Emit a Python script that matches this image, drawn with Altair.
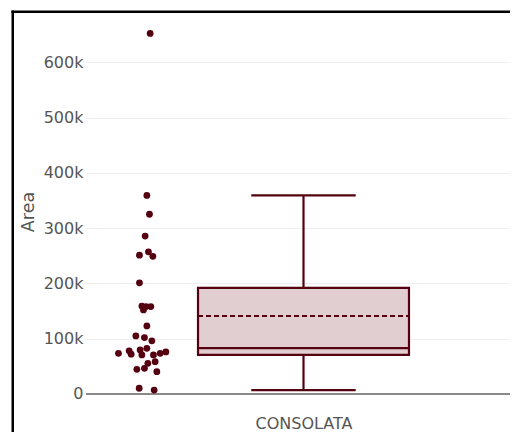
import altair as alt
import pandas as pd

# ---- data ----
CATEGORY = "CONSOLATA"
AREA = [652000, 359000, 325000, 285500, 251000, 257000, 249000, 201000,
        159000, 158000, 158000, 152000, 123000, 105000, 102000, 96000,
        73500, 78000, 72000, 79500, 70500, 82600, 70500, 73500, 76000,
        55400, 58400, 44600, 46400, 40300, 10300, 7000]
JITTER_PX = [5, 1.7, 4.3, 0, -5.7, 3.3, 7.7, -5.7,
             -3.3, 1, 5.7, -1.7, 1.7, -9.3, -0.7, 6.7,
             -26.7, -16, -14, -5, -3.3, 1.7, 8.3, 15, 20.7,
             2.7, 10, -8.3, -0.7, 11.7, -6, 9]
Q1 = [70500]
MEDIAN = [83000]
Q3 = [192000]
MEAN = [141000]
LOWER_FENCE = [7000]
UPPER_FENCE = [359000]
Y_TICKS = [0, 100000, 200000, 300000, 400000, 500000, 600000]

# ---- styling ----
DARK = "#550010"
FILL = "#e0ced1"
FONT = "DejaVu Sans"
CAT_W = 435.0          # pixel width of the category band
BOX_HALF = 0.2425
CAP_HALF = 0.12
POINT_POS = -0.364
PLOT_W = 424
PLOT_H = 387
PAD_B = 27

pts = pd.DataFrame({"y": AREA, "x": [POINT_POS + j / CAT_W for j in JITTER_PX]})
stats = pd.DataFrame({"cat": [CATEGORY], "q1": Q1, "med": MEDIAN, "q3": Q3,
                      "mean": MEAN, "lo": LOWER_FENCE, "hi": UPPER_FENCE,
                      "c": [0.0], "bl": [-BOX_HALF], "br": [BOX_HALF],
                      "cl": [-CAP_HALF], "cr": [CAP_HALF], "z": [0]})

xs = alt.Scale(domain=[-0.5, -0.5 + PLOT_W / CAT_W], nice=False, zero=False)
ys = alt.Scale(domain=[-20000, 680000], nice=False, zero=False)

xaxis = alt.Axis(values=[0], labelExpr=f"'{CATEGORY}'", grid=False, domain=False,
                 ticks=False, title=None, labelFont=FONT, labelFontSize=16,
                 labelColor="#555", labelPadding=10)
yaxis = alt.Axis(values=Y_TICKS, grid=True, gridColor="#eeeeee",
                 labelExpr="datum.value == 0 ? '0' : format(datum.value, '~s')",
                 domain=False, ticks=False, labelFont=FONT, labelFontSize=16,
                 labelColor="#555", labelPadding=3, title="Area",
                 titleFont=FONT, titleFontSize=17.5, titleFontWeight="normal",
                 titleColor="#555", titlePadding=6)

base = alt.Chart(stats)


def X(field):
    return alt.X(field, scale=xs, axis=xaxis)


def Y(field):
    return alt.Y(field, scale=ys, axis=yaxis)


frame_left = base.mark_rect(color="black", strokeWidth=0).encode(
    x=alt.value(-74.5), x2=alt.value(-72), y=alt.value(-7.5), y2=alt.value(PLOT_H + PAD_B))
frame_top = base.mark_rect(color="black", strokeWidth=0).encode(
    x=alt.value(-74.5), x2=alt.value(PLOT_W), y=alt.value(-7.5), y2=alt.value(-5))

zero = base.mark_rule(color="#666666", strokeWidth=1.5).encode(
    y=Y("z:Q"), x=alt.value(0), x2=alt.value(PLOT_W))

whisk_hi = base.mark_rule(color=DARK, strokeWidth=2.2).encode(
    x=X("c:Q"), y=Y("q3:Q"), y2="hi:Q")
whisk_lo = base.mark_rule(color=DARK, strokeWidth=2.2).encode(
    x=X("c:Q"), y=Y("lo:Q"), y2="q1:Q")
cap_hi = base.mark_rule(color=DARK, strokeWidth=2.2).encode(
    x=X("cl:Q"), x2="cr:Q", y=Y("hi:Q"))
cap_lo = base.mark_rule(color=DARK, strokeWidth=2.2).encode(
    x=X("cl:Q"), x2="cr:Q", y=Y("lo:Q"))
box = base.mark_rect(fill=FILL, stroke=DARK, strokeWidth=2.2).encode(
    x=X("bl:Q"), x2="br:Q", y=Y("q1:Q"), y2="q3:Q")
median = base.mark_rule(color=DARK, strokeWidth=2.2).encode(
    x=X("bl:Q"), x2="br:Q", y=Y("med:Q"))
mean = base.mark_rule(color=DARK, strokeWidth=2.2, strokeDash=[5, 3]).encode(
    x=X("bl:Q"), x2="br:Q", y=Y("mean:Q"))

points = alt.Chart(pts).mark_circle(color=DARK, opacity=1, size=46).encode(
    x=X("x:Q"), y=Y("y:Q"))

chart = alt.layer(frame_left, frame_top, zero, whisk_hi, whisk_lo, cap_hi, cap_lo,
                  box, median, mean, points).properties(
    width=PLOT_W, height=PLOT_H,
    autosize=alt.AutoSizeParams(type="none"),
    padding={"left": 78, "top": 10, "right": 0, "bottom": PAD_B},
    background="white",
).configure_view(stroke=None)

chart.save("out.html", embed_options={"renderer": "svg", "actions": False})
